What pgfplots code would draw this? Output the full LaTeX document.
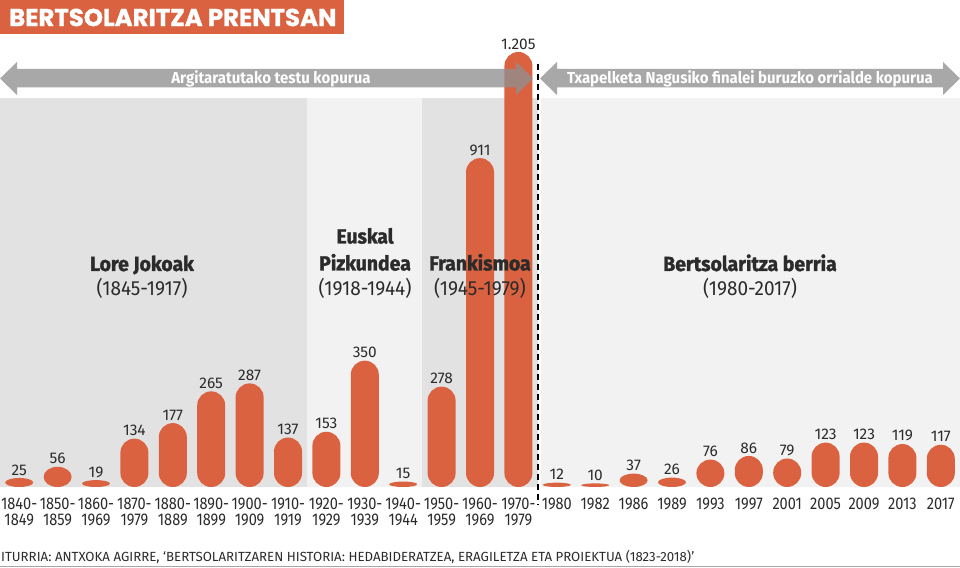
\documentclass[border=0pt]{standalone}
\usepackage{fontspec}
\setmainfont{Fira Sans}[FakeStretch=0.86]
\newfontfamily\titlefont{Poppins}[BoldFeatures={FakeBold=1.2}]
\newfontfamily\heavy{Fira Sans}[FakeStretch=0.95, BoldFeatures={FakeBold=1.5}]
\newfontfamily\yearfont{Fira Sans}[FakeStretch=0.93]
\newfontfamily\arrowfont{Fira Sans}[FakeStretch=0.94]
\newfontfamily\plain{Fira Sans}
\usepackage{pgfplots}
\pgfplotsset{compat=1.18}
\definecolor{barorange}{HTML}{DA6240}
\definecolor{bgdark}{HTML}{E2E2E2}
\definecolor{bglight}{HTML}{F2F2F2}
\definecolor{arrowgray}{HTML}{8F8F8F}
\definecolor{txt}{HTML}{2B2B2B}

% pill shaped bar: 28bp wide, height from the value (487bp for 1349), top at the data point
\pgfdeclareplotmark{pill}{%
  \pgfmathsetmacro\pillh{\rawy*0.361008}%
  \pgfmathsetmacro\pillr{min(14,\pillh/2)}%
  \pgfpathmoveto{\pgfpoint{-14bp}{\pillr bp-\pillh bp}}%
  \pgfpatharc{180}{360}{14bp and \pillr bp}%
  \pgfpathlineto{\pgfpoint{14bp}{-\pillr bp}}%
  \pgfpatharc{0}{180}{14bp and \pillr bp}%
  \pgfpathclose
  \pgfusepathqfill
}

\begin{document}
\begin{tikzpicture}
\begin{axis}[
  at={(0,81bp)}, anchor=south west,
  scale only axis, width=960bp, height=487bp,
  xmin=-0.5, xmax=24.5, ymin=0, ymax=1349,
  clip=false,
  axis line style={draw=none},
  ytick=\empty,
  xtick={0,...,24},
  major tick length=0pt,
  xticklabels={{1840-\\1849},{1850-\\1859},{1860-\\1969},{1870-\\1979},{1880-\\1889},{1890-\\1899},{1900-\\1909},{1910-\\1919},{1920-\\1929},{1930-\\1939},{1940-\\1944},{1950-\\1959},{1960-\\1969},{1970-\\1979},1980,1982,1986,1989,1993,1997,2001,2005,2009,2013,2017},
  xticklabel style={font=\fontsize{17}{16}\selectfont, text=txt, align=center, anchor=north, inner sep=0pt, yshift=-11bp},
  /pgf/number format/assume math mode=true,
  /pgf/number format/1000 sep={.},
]
% period backgrounds
\fill[bgdark]  (axis cs:-0.5,0) rectangle (axis cs:7.5,1077);
\fill[bglight] (axis cs:7.5,0) rectangle (axis cs:10.5,1077);
\fill[bgdark]  (axis cs:10.5,0) rectangle (axis cs:13.5,1077);
\fill[bglight] (axis cs:13.58,0) rectangle (axis cs:24.5,1077);

\addplot[only marks, mark=pill, mark options={fill=barorange, draw=none},
  visualization depends on={rawy \as \rawy},
  nodes near coords,
  nodes near coords style={font=\plain\fontsize{15.5}{15.5}\selectfont, text=txt, anchor=south, inner sep=2.5bp}]
coordinates {
  (0,25) (1,56) (2,19) (3,134) (4,177) (5,265) (6,287) (7,137)
  (8,153) (9,350) (10,15)
  (11,278) (12,911) (13,1205)
  (14,12) (15,10) (16,37) (17,26) (18,76) (19,86) (20,79)
  (21,123) (22,123) (23,119) (24,117)
};
\end{axis}

\begin{scope}[x=1bp, y=-1bp, yshift=568bp]
% title
\fill[barorange] (0,0) rectangle (344,34);
\node[anchor=west, text=white, inner sep=0pt] at (9,17.5) {\titlefont\bfseries\fontsize{24.5}{24.5}\selectfont BERTSOLARITZA PRENTSAN};
% arrows
\fill[arrowgray, fill opacity=0.78] (0,78.5) -- (17,62) -- (17,69) -- (516,69) -- (516,62) -- (533,78.5) -- (516,95) -- (516,87.5) -- (17,87.5) -- (17,95) -- cycle;
\fill[arrowgray, fill opacity=0.78] (540,78.5) -- (557,62) -- (557,69) -- (943,69) -- (943,62) -- (960,78.5) -- (943,95) -- (943,87.5) -- (557,87.5) -- (557,95) -- cycle;
\node[text=white, font=\arrowfont\bfseries\fontsize{16}{16}\selectfont, anchor=base] at (271,84) {Argitaratutako testu kopurua};
\node[text=white, font=\arrowfont\bfseries\fontsize{16}{16}\selectfont, anchor=base] at (750,84) {Txapelketa Nagusiko finalei buruzko orrialde kopurua};
% divider
\draw[black, line width=1.6bp, dash pattern=on 6bp off 4bp] (538,64) -- (538,505);
% period labels
\begin{scope}[every node/.style={anchor=base, text=txt, inner sep=0pt}]
\node[font=\heavy\bfseries\fontsize{20.5}{20.5}\selectfont] at (142,271) {Lore Jokoak};
\node[font=\yearfont\fontsize{20.5}{20.5}\selectfont] at (142,296) {(1845-1917)};
\node[font=\heavy\bfseries\fontsize{20.5}{20.5}\selectfont] at (365,243.5) {Euskal};
\node[font=\heavy\bfseries\fontsize{20.5}{20.5}\selectfont] at (365,270.5) {Pizkundea};
\node[font=\yearfont\fontsize{20.5}{20.5}\selectfont] at (365,296) {(1918-1944)};
\node[font=\heavy\bfseries\fontsize{20.5}{20.5}\selectfont] at (480,270.5) {Frankismoa};
\node[font=\yearfont\fontsize{20.5}{20.5}\selectfont] at (480,296) {(1945-1979)};
\node[font=\heavy\bfseries\fontsize{20.5}{20.5}\selectfont] at (750,271) {Bertsolaritza berria};
\node[font=\yearfont\fontsize{20.5}{20.5}\selectfont] at (750,296) {(1980-2017)};
\end{scope}
% source
\node[anchor=base west, inner sep=0pt, text=txt, font=\plain\fontsize{13.3}{13.3}\selectfont] at (1,562) {ITURRIA: ANTXOKA AGIRRE, ‘BERTSOLARITZAREN HISTORIA: HEDABIDERATZEA, ERAGILETZA ETA PROIEKTUA (1823-2018)’};
\draw[gray!70, line width=1bp] (0,566.8) -- (960,566.8);
\end{scope}
\pgfresetboundingbox
\path[use as bounding box] (0,0) rectangle (960bp,568bp);
\end{tikzpicture}
\end{document}
